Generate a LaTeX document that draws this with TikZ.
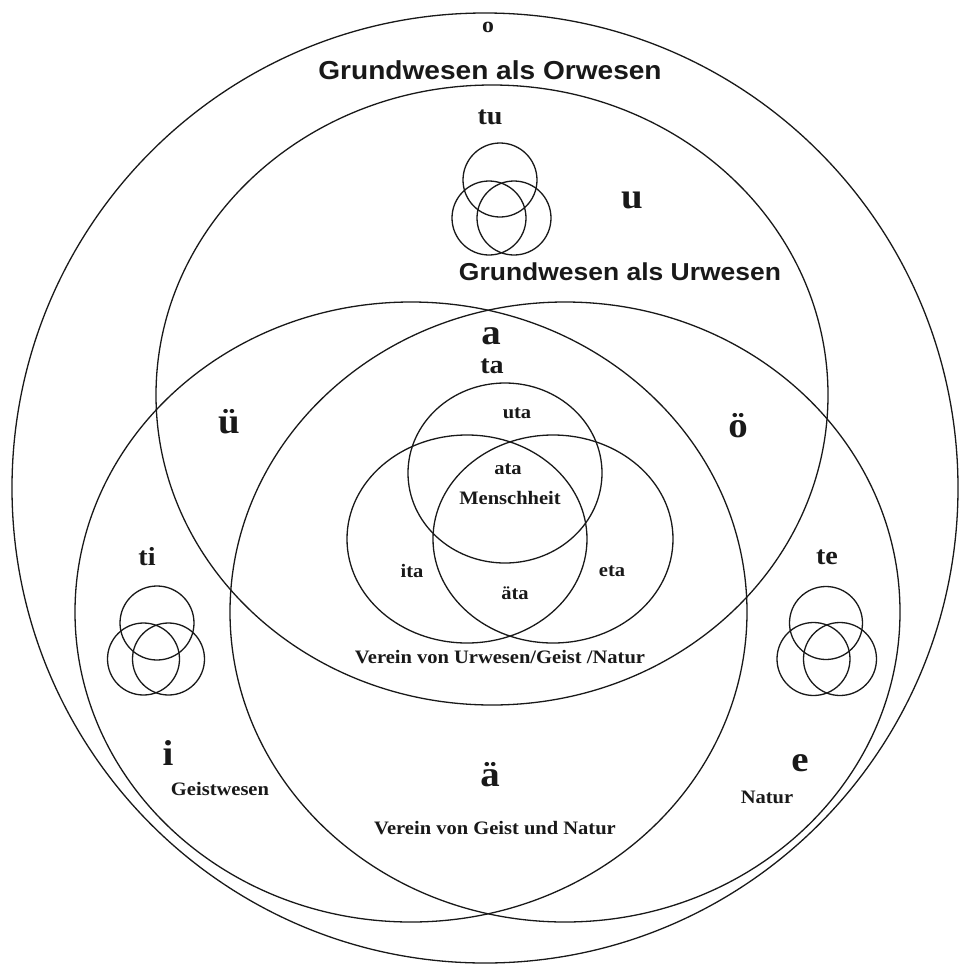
\documentclass[tikz,border=0pt]{standalone}
\usepackage{fontspec}
\usepackage{graphicx}
\setmainfont{Liberation Serif}[FakeStretch=1.08]
\newfontfamily\hsans{Liberation Sans}[FakeStretch=1.08]
\tikzset{
  ring/.style={draw=black!90, line width=1.3pt},
  lblS/.style={inner sep=0pt, font=\bfseries\fontsize{19}{22}\selectfont, text=black!90},
  lblM/.style={inner sep=0pt, font=\bfseries\fontsize{26}{30}\selectfont, text=black!90},
  lblL/.style={inner sep=0pt, font=\bfseries\fontsize{36}{40}\selectfont, text=black!90},
  lblO/.style={inner sep=0pt, font=\bfseries\fontsize{22}{26}\selectfont, text=black!90},
  lblH/.style={inner sep=0pt, font=\hsans\bfseries\fontsize{26}{30}\selectfont, text=black!90},
  lblH2/.style={inner sep=0pt, font=\hsans\bfseries\fontsize{24.5}{28}\selectfont, text=black!90},
}
\begin{document}
\begin{tikzpicture}[x=1pt,y=-1pt]
\useasboundingbox[fill=white] (0,0) rectangle (962,967);
% big circles
\draw[ring] (485,488) ellipse [x radius=473, y radius=475];
\draw[ring] (492,395) ellipse [x radius=336, y radius=310];
\draw[ring] (411,612) ellipse [x radius=336, y radius=310];
\draw[ring] (565,612) ellipse [x radius=335, y radius=310];
% inner triple
\draw[ring] (505,473) ellipse [x radius=97, y radius=90];
\draw[ring] (467,539) ellipse [x radius=120, y radius=104];
\draw[ring] (553,539) ellipse [x radius=120, y radius=104];
% small triple tu
\draw[ring] (500,180) circle [radius=37];
\draw[ring] (489,218) circle [radius=37];
\draw[ring] (514,218) circle [radius=37];
% small triple ti
\draw[ring] (157,623) circle [radius=37];
\draw[ring] (143.5,659) circle [radius=36];
\draw[ring] (168.5,659) circle [radius=36];
% small triple te
\draw[ring] (826,623) circle [radius=36.5];
\draw[ring] (813.5,659) circle [radius=36.5];
\draw[ring] (840,659) circle [radius=36.5];
% labels
\node[lblO] (o) at (488,27) {o};
\node[lblH] (orw) at (490,70) {Grundwesen als Orwesen};
\node[lblM] (tu) at (490,117) {tu};
\node[lblL] (u) at (632,200) {u};
\node[lblH2] (urw) at (620,272) {Grundwesen als Urwesen};
\node[lblL] (a) at (491,336) {a};
\node[lblM] (ta) at (492,366) {ta};
\node[lblS] (uta) at (517,413) {uta};
\node[lblS] (ata) at (508,469) {ata};
\node[lblS] (men) at (510,498) {Menschheit};
\node[lblS] (ita) at (412,571) {ita};
\node[lblS] (eta) at (612,571) {eta};
\node[lblS] (aeta) at (515,593) {äta};
\node[lblS] (vug) at (500,657) {Verein von Urwesen/Geist /Natur};
\node[lblL] (ue) at (229,422) {ü};
\node[lblL] (oe) at (738,426) {ö};
\node[lblM] (ti) at (147,557) {ti};
\node[lblM] (te) at (827,557) {te};
\node[lblL] (i) at (168,753) {i};
\node[lblS] (geist) at (220,789) {Geistwesen};
\node[lblL] (ae) at (490,775) {ä};
\node[lblS] (vgn) at (495,828) {Verein von Geist und Natur};
\node[lblL] (e) at (800,763) {e};
\node[lblS] (natur) at (767,797) {Natur};
\end{tikzpicture}
\end{document}
